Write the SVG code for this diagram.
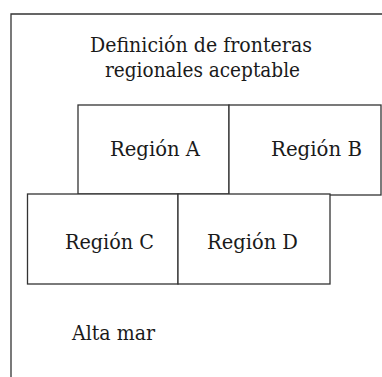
<svg xmlns="http://www.w3.org/2000/svg" width="382" height="377" viewBox="0 0 382 377">
<style>
.b{fill:#fff;stroke:#333;stroke-width:1.3}
text{font-family:'DejaVu Serif',serif;font-size:20px;fill:#1a1a1a}
</style>
<rect width="382" height="377" fill="#fff"/>
<g id="sea">
<path class="b" d="M11,377 V14 H390" fill="none"/>
<text x="90" y="52" textLength="222" lengthAdjust="spacingAndGlyphs">Definición de fronteras</text>
<text x="105" y="77" textLength="195" lengthAdjust="spacingAndGlyphs">regionales aceptable</text>
<text x="72" y="340" textLength="83" lengthAdjust="spacingAndGlyphs">Alta mar</text>
</g>
<g id="regionA">
<rect class="b" x="78" y="105" width="151" height="89"/>
<text x="110" y="156" textLength="90" lengthAdjust="spacingAndGlyphs">Región A</text>
</g>
<g id="regionB">
<rect class="b" x="229" y="105" width="152" height="90"/>
<text x="271" y="156" textLength="91" lengthAdjust="spacingAndGlyphs">Región B</text>
</g>
<g id="regionC">
<rect class="b" x="27.5" y="194" width="150.5" height="90"/>
<text x="65" y="249" textLength="89" lengthAdjust="spacingAndGlyphs">Región C</text>
</g>
<g id="regionD">
<rect class="b" x="178" y="194" width="152" height="90"/>
<text x="207" y="249" textLength="91" lengthAdjust="spacingAndGlyphs">Región D</text>
</g>
<g id="connectors"/>
</svg>
